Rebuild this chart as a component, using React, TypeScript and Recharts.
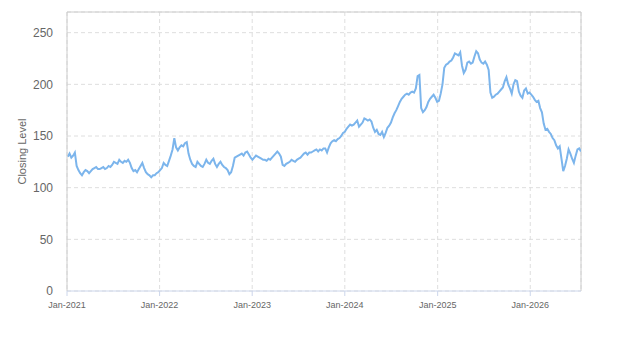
import React from 'react';
import { LineChart, Line, XAxis, YAxis, CartesianGrid, ReferenceLine, Label } from 'recharts';

const MONTHS = ['Jan', 'Feb', 'Mar', 'Apr', 'May', 'Jun', 'Jul', 'Aug', 'Sep', 'Oct', 'Nov', 'Dec'];

// weekly closes, first week starting Mon 4 Jan 2021
const FIRST_WEEK = Date.UTC(2021, 0, 4);
const WEEK_MS = 7 * 24 * 3600 * 1000;

const closes = [
  130, 133, 129, 131, 134, 121, 117, 114, 112, 115,
  117, 116, 114, 116, 118, 119, 120, 118, 118, 119,
  120, 118, 119, 121, 120, 122, 125, 124, 123, 127,
  125, 124, 126, 125, 127, 124, 119, 116, 117, 115,
  118, 121, 124, 119, 115, 113, 112, 110, 112, 112,
  114, 115, 117, 119, 124, 122, 121, 126, 131, 137,
  148, 139, 136, 139, 141, 140, 143, 144, 133, 127,
  123, 121, 120, 125, 123, 121, 120, 123, 127, 124,
  123, 126, 128, 123, 120, 123, 125, 122, 120, 119,
  117, 113, 115, 121, 129, 130, 131, 132, 133, 131,
  134, 135, 132, 129, 127, 129, 131, 130, 129, 128,
  127, 127, 126, 128, 127, 129, 131, 133, 135, 133,
  130, 122, 121, 123, 124, 125, 127, 126, 125, 127,
  128, 129, 131, 133, 134, 132, 134, 134, 135, 136,
  137, 135, 137, 136, 138, 138, 134, 139, 143, 145,
  146, 145, 147, 148, 150, 153, 154, 157, 159, 161,
  160, 161, 163, 165, 159, 161, 163, 167, 166, 165,
  166, 164, 158, 154, 156, 152, 151, 154, 149, 153,
  158, 160, 163, 168, 172, 175, 179, 183, 186, 188,
  190, 191, 190, 192, 193, 192, 196, 208, 209, 177,
  173, 175, 178, 183, 186, 188, 190, 187, 183, 184,
  191, 200, 216, 219, 220, 222, 223, 226, 230, 229,
  228, 231, 218, 211, 214, 221, 222, 220, 221, 227,
  232, 230, 224, 221, 220, 222, 219, 214, 192, 187,
  188, 190, 191, 193, 195, 197, 203, 207, 200, 196,
  191, 200, 204, 203, 193, 189, 187, 194, 196, 191,
  192, 190, 188, 185, 183, 184, 177, 173, 162, 156,
  157, 154, 152, 148, 146, 141, 138, 140, 128, 116,
  121, 128, 137, 133, 128, 124, 131, 137, 138, 135,
];

const yTicks = [0, 50, 100, 150, 200, 250];
const tickYears = [2021, 2022, 2023, 2024, 2025, 2026];

const data = closes.map((close, i) => ({ t: FIRST_WEEK + i * WEEK_MS, close }));
const xStart = Date.UTC(2021, 0, 1);
const xEnd = data[data.length - 1].t;
const xTicks = tickYears.map((y) => Date.UTC(y, 0, 1));
const yMax = 270;

const fmtMonth = (t: number) => {
  const d = new Date(t);
  return `${MONTHS[d.getUTCMonth()]}-${d.getUTCFullYear()}`;
};

const App = () => {
  return (
    <div style={{ position: 'absolute', left: 0, top: 0, fontFamily: '"Liberation Sans", Arial, sans-serif' }}>
      <LineChart width={623} height={350} data={data} margin={{ top: 12, right: 42, bottom: 0, left: 0 }}>
        <CartesianGrid stroke="#dedede" strokeDasharray="4 3" />
        <XAxis
          dataKey="t"
          type="number"
          scale="time"
          domain={[xStart, xEnd]}
          ticks={xTicks}
          tickFormatter={fmtMonth}
          height={59}
          stroke="#ccd6eb"
          tickSize={5}
          tickMargin={6}
          tick={{ fill: '#666', fontSize: 9 }}
          allowDataOverflow
        />
        <YAxis
          domain={[0, yMax]}
          ticks={yTicks}
          width={67}
          stroke="#ccc"
          tickLine={false}
          tickSize={0}
          tickMargin={14}
          tick={{ fill: '#666', fontSize: 12 }}
          allowDataOverflow
        >
          <Label value="Closing Level" angle={-90} position="insideLeft" offset={22} fill="#666" fontSize={11} style={{ textAnchor: 'middle' }} />
        </YAxis>
        <ReferenceLine y={yMax} stroke="#ccc" />
        <ReferenceLine x={xEnd} stroke="#ccc" />
        <Line type="linear" dataKey="close" stroke="#7cb5ec" strokeWidth={2} dot={false} isAnimationActive={false} />
      </LineChart>
    </div>
  );
};

export default App;
